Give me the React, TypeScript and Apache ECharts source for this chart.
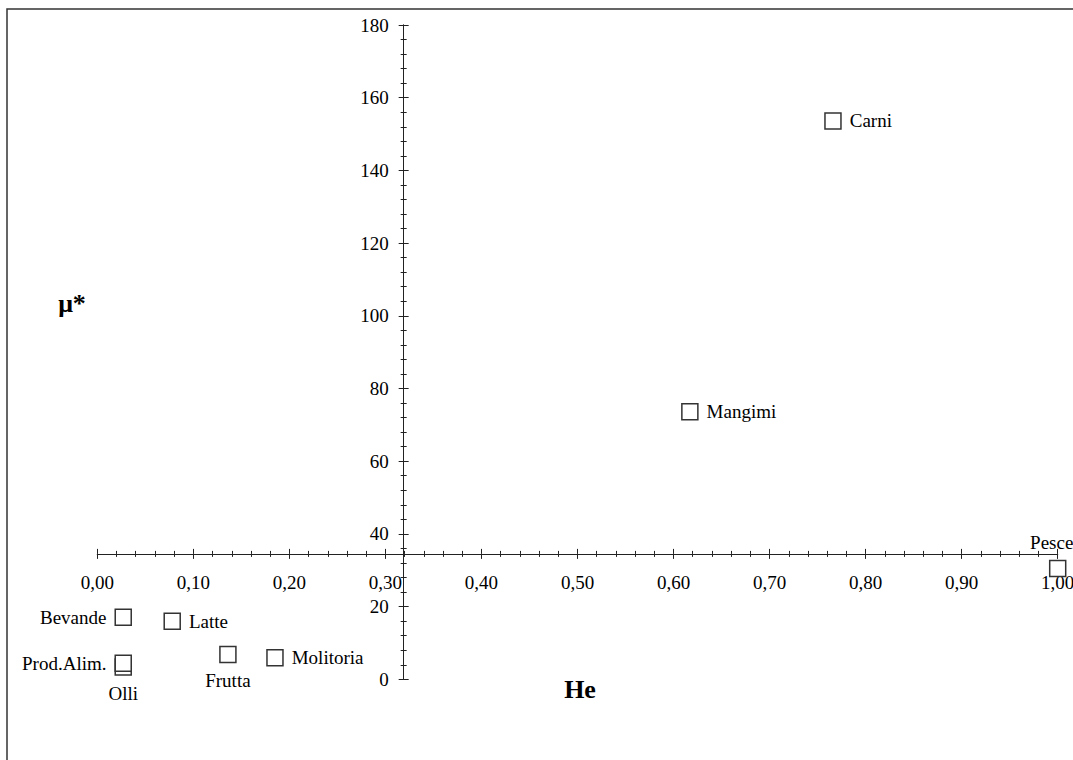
import React, { useEffect, useRef } from "react";
import * as echarts from "echarts";

// Data
const names = ["Carni", "Mangimi", "Pesce", "Bevande", "Latte", "Frutta", "Molitoria", "Olli", "Prod.Alim."];
const heValues = [0.766, 0.617, 1.0, 0.027, 0.078, 0.136, 0.185, 0.027, 0.027];
const muValues = [153.6, 73.6, 30.5, 17.1, 16.0, 6.8, 5.9, 3.4, 4.4];

const xTickMin = 0;
const xTickMax = 1;
const xTickStep = 0.1;
const yTickMin = 0;
const yTickMax = 180;
const yTickStep = 20;

// where the axes cross (in data units)
const crossHe = 0.319;
const crossMu = 34.5;

const xTitle = "He";
const yTitle = "μ*";

const labelSide: Record<string, string> = {
  Carni: "right",
  Mangimi: "right",
  Pesce: "top",
  Bevande: "left",
  Latte: "right",
  Frutta: "bottom",
  Molitoria: "right",
  "Prod.Alim.": "left",
  Olli: "bottom",
};
const labelShift: Record<string, number[]> = {
  Pesce: [-6, 0],
};

const W = 1073;
const H = 760;
const G_LEFT = 97.3;
const G_RIGHT = 15.3;
const G_TOP = 25;
const G_BOTTOM = 80.7;
const FONT = "'Liberation Serif', 'Times New Roman', serif";
const INK = "#222";

export default function App() {
  const ref = useRef<HTMLDivElement>(null);

  useEffect(() => {
    if (!ref.current) return;
    const chart = echarts.init(ref.current, undefined, { renderer: "svg" });
    const gw = W - G_LEFT - G_RIGHT;
    const gh = H - G_TOP - G_BOTTOM;
    const xOffset = -((crossMu - yTickMin) / (yTickMax - yTickMin)) * gh;
    const yOffset = -((crossHe - xTickMin) / (xTickMax - xTickMin)) * gw;

    const fmtX = (v: number) => v.toFixed(2).replace(".", ",");

    const baseX = {
      type: "value",
      min: xTickMin,
      max: xTickMax,
      interval: xTickStep,
      position: "bottom",
      offset: xOffset,
      splitLine: { show: false },
      axisLine: { show: true, onZero: false, lineStyle: { color: INK, width: 1 } },
      minorTick: { show: true, splitNumber: 5, length: 3, lineStyle: { color: INK } },
      minorSplitLine: { show: false },
    };
    const baseY = {
      type: "value",
      min: yTickMin,
      max: yTickMax,
      interval: yTickStep,
      position: "left",
      offset: yOffset,
      splitLine: { show: false },
      axisLine: { show: true, onZero: false, lineStyle: { color: INK, width: 1 } },
      minorTick: { show: true, splitNumber: 5, length: 3, lineStyle: { color: INK } },
      minorSplitLine: { show: false },
    };

    const data = names.map((n, i) => ({
      name: n,
      value: [heValues[i], muValues[i]],
      label: { position: labelSide[n] || "right", offset: labelShift[n] || [0, 0] },
    }));

    chart.setOption({
      animation: false,
      backgroundColor: "#fff",
      textStyle: { fontFamily: FONT },
      grid: {
        left: G_LEFT,
        right: G_RIGHT,
        top: G_TOP,
        bottom: G_BOTTOM,
        containLabel: false,
        outerBoundsMode: "none",
      },
      xAxis: [
        {
          ...baseX,
          axisTick: { show: true, inside: false, length: 5, lineStyle: { color: INK } },
          axisLabel: {
            show: true,
            margin: 19,
            color: "#000",
            fontSize: 19,
            fontFamily: FONT,
            formatter: fmtX,
            showMinLabel: true,
            showMaxLabel: true,
          },
        },
        {
          ...baseX,
          axisTick: { show: true, inside: true, length: 5, lineStyle: { color: INK } },
          minorTick: { show: true, splitNumber: 5, length: 3, lineStyle: { color: INK } },
          axisLabel: { show: false },
        },
      ],
      yAxis: [
        {
          ...baseY,
          axisTick: { show: true, inside: false, length: 5, lineStyle: { color: INK } },
          axisLabel: {
            show: true,
            margin: 15,
            color: "#000",
            fontSize: 19,
            fontFamily: FONT,
            showMinLabel: true,
            showMaxLabel: true,
          },
        },
        {
          ...baseY,
          axisTick: { show: true, inside: true, length: 5, lineStyle: { color: INK } },
          axisLabel: { show: false },
        },
      ],
      series: [
        {
          type: "scatter",
          xAxisIndex: 0,
          yAxisIndex: 0,
          symbol: "rect",
          symbolSize: 16,
          itemStyle: { color: "#fff", borderColor: "#333", borderWidth: 1.5, opacity: 1 },
          label: {
            show: true,
            formatter: "{b}",
            color: "#000",
            fontSize: 19,
            fontFamily: FONT,
            distance: 8,
          },
          emphasis: { disabled: true },
          data,
          z: 5,
        },
      ],
      graphic: [
        {
          type: "rect",
          shape: { x: 7, y: 9, width: 1200, height: 900 },
          style: { fill: "none", stroke: "#333", lineWidth: 1.5 },
          silent: true,
          z: 100,
        },
        {
          type: "text",
          x: 72,
          y: 303,
          style: {
            text: yTitle,
            fontSize: 26,
            fontWeight: "bold",
            fontFamily: FONT,
            fill: "#000",
            align: "center",
            verticalAlign: "middle",
          },
        },
        {
          type: "text",
          x: 580,
          y: 689,
          style: {
            text: xTitle,
            fontSize: 26,
            fontWeight: "bold",
            fontFamily: FONT,
            fill: "#000",
            align: "center",
            verticalAlign: "middle",
          },
        },
      ],
    });
    return () => chart.dispose();
  }, []);

  return (
    <div
      ref={ref}
      style={{ position: "fixed", left: 0, top: 0, width: W, height: H, background: "#fff" }}
    />
  );
}
